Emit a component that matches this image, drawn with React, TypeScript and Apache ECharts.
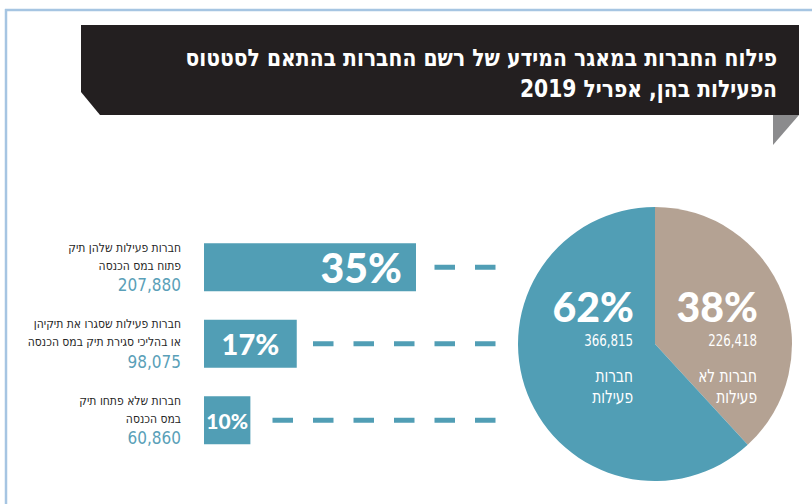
import React, { useEffect, useRef } from "react";
import * as echarts from "echarts";

const titleLines = [
  "פילוח החברות במאגר המידע של רשם החברות בהתאם לסטטוס",
  "הפעילות בהן, אפריל 2019",
];
const categoryLines = [
  ["חברות פעילות שלהן תיק", "פתוח במס הכנסה"],
  ["חברות פעילות שסגרו את תיקיהן", "או בהליכי סגירת תיק במס הכנסה"],
  ["חברות שלא פתחו תיק", "במס הכנסה"],
];
const categoryCounts = [207880, 98075, 60860];
const barPercents = [35, 17, 10];
const pieNames = [
  ["חברות לא", "פעילות"],
  ["חברות", "פעילות"],
];
const pieValues = [226418, 366815];

const BLUE = "#519eb5";
const BEIGE = "#b4a293";
const NARROW = "'DejaVu Sans Condensed', 'Liberation Sans Narrow', sans-serif";
const HEAVY = "Lato, 'Open Sans', sans-serif";

const fmt = (n: number) => n.toLocaleString("en-US");

export default function App() {
  const ref = useRef<HTMLDivElement>(null);
  useEffect(() => {
    document.body.style.margin = "0";
    const chart = echarts.init(ref.current!, null, { renderer: "svg" });
    const total = pieValues.reduce((a, b) => a + b, 0);
    const piePct = pieValues.map((v) => Math.round((v / total) * 100));
    const labelSizes = [41, 29, 21];
    const pieRight = [758, 634];

    const pieTexts: any[] = [];
    pieValues.forEach((v, i) => {
      pieTexts.push({
        type: "text",
        z: 100,
        x: pieRight[i],
        y: 306,
        style: {
          text: piePct[i] + "%",
          fill: "#fff",
          font: `900 41px ${HEAVY}`,
          align: "right",
          verticalAlign: "middle",
        },
      });
      pieTexts.push({
        type: "text",
        z: 100,
        x: pieRight[i] - 1,
        y: 340,
        scaleX: 0.82,
        style: {
          text: fmt(v),
          fill: "#fff",
          font: `16px ${NARROW}`,
          align: "right",
          verticalAlign: "middle",
        },
      });
      pieNames[i].forEach((ln, j) => {
        pieTexts.push({
          type: "text",
          z: 100,
          x: pieRight[i] - 1,
          y: 376 + j * 21,
          scaleX: 0.85,
          style: {
            text: ln,
            fill: "#fff",
            font: `18px ${NARROW}`,
            align: "right",
            verticalAlign: "middle",
          },
        });
      });
    });

    chart.setOption({
      animation: false,
      backgroundColor: "#fff",
      graphic: [
        { type: "line", shape: { x1: 5, y1: 10, x2: 812, y2: 10 }, style: { stroke: "#a6c5e2", lineWidth: 2.5 } },
        { type: "line", shape: { x1: 6, y1: 9, x2: 6, y2: 504 }, style: { stroke: "#a6c5e2", lineWidth: 2.5 } },
        {
          type: "polygon",
          shape: { points: [[81, 25], [799, 25], [799, 115], [100, 115], [81, 92]] },
          style: { fill: "#231f20" },
        },
        {
          type: "polygon",
          shape: { points: [[773, 115], [799, 115], [773, 145]] },
          style: { fill: "#8b8b8d" },
        },
        ...titleLines.map((t, i) => ({
          type: "text",
          x: 777,
          y: 57 + i * 31,
          scaleX: 0.94,
          style: {
            text: t,
            fill: "#fff",
            font: `bold 24px ${NARROW}`,
            align: "right",
            verticalAlign: "middle",
          },
        })),
        ...pieTexts,
      ],
      grid: { left: 204, top: 229, width: 291.5, height: 229.5 },
      xAxis: {
        type: "value",
        min: 3,
        max: 47,
        show: false,
      },
      yAxis: {
        type: "category",
        inverse: true,
        data: categoryLines.map((l) => l.join(" ")),
        axisLine: { show: false },
        axisTick: { show: false },
        axisLabel: {
          margin: 23,
          align: "right",
          formatter: (_v: string, idx: number) =>
            `{t|${categoryLines[idx][0]}}\n{t|${categoryLines[idx][1]}}\n{n|${fmt(categoryCounts[idx])}}`,
          rich: {
            t: { fontFamily: NARROW, fontSize: 12, fontWeight: 500, color: "#262626", lineHeight: 18, align: "right" },
            n: { fontFamily: NARROW, fontSize: 17, color: "#5a9fb8", lineHeight: 21, align: "right" },
          },
        },
      },
      series: [
        {
          type: "bar",
          barWidth: 48,
          itemStyle: { color: BLUE },
          data: barPercents.map((v, i) => ({
            value: v,
            label: {
              show: true,
              position: i === 0 ? "insideRight" : "inside",
              distance: 14,
              formatter: "{c}%",
              color: "#fff",
              fontFamily: HEAVY,
              fontWeight: 900,
              fontSize: labelSizes[i],
            },
          })),
        },
        {
          type: "custom",
          encode: { x: 0, y: 1 },
          data: barPercents.map((v, i) => [v, i]),
          renderItem: (params: any, api: any) => {
            const p = api.coord([api.value(0), api.value(1)]);
            const cs = params.coordSys;
            return {
              type: "line",
              shape: { x1: cs.x + cs.width, y1: p[1], x2: p[0] + 15, y2: p[1] },
              style: { stroke: BLUE, lineWidth: 5, lineDash: [20.5, 20] },
            };
          },
        },
        {
          type: "pie",
          center: [655, 344],
          radius: 137,
          startAngle: 90,
          clockwise: true,
          label: { show: false },
          labelLine: { show: false },
          data: pieValues.map((v, i) => ({
            value: v,
            name: pieNames[i].join(" "),
            itemStyle: { color: i === 0 ? BEIGE : BLUE },
          })),
        },
      ],
    });
    return () => chart.dispose();
  }, []);
  return <div ref={ref} style={{ width: 812, height: 504 }} />;
}
